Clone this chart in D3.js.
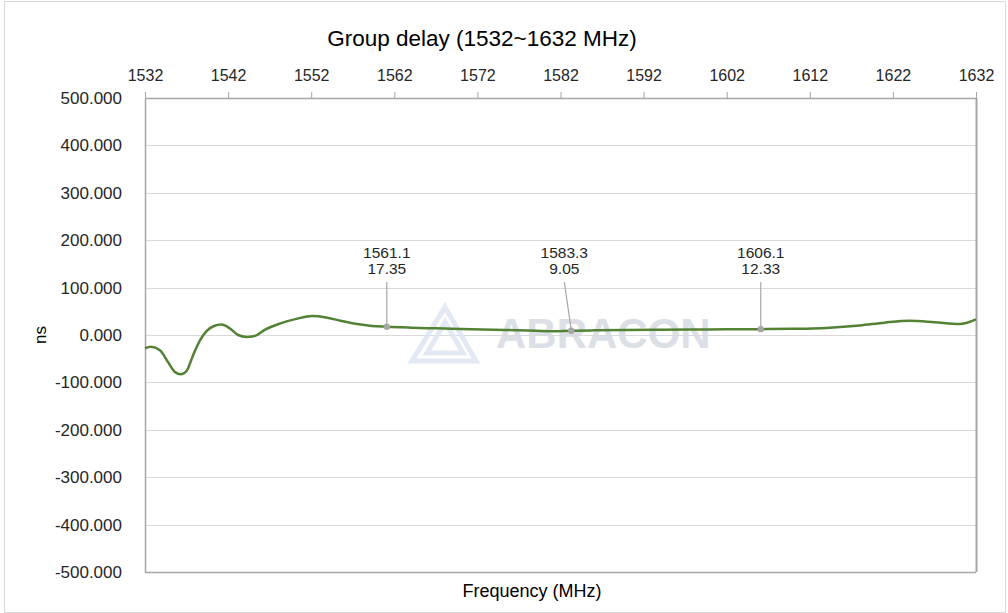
<!DOCTYPE html>
<html>
<head>
<meta charset="utf-8">
<script src="https://cdn.jsdelivr.net/npm/d3@7"></script>
<style>
  body { margin: 0; background: #fff; }
  svg { font-family: "Liberation Sans", Arial, sans-serif; }
  .axis text { fill: #262626; font-size: 16px; }
  .axis.yax text { font-size: 17px; }
  .axis path, .axis line { stroke: #a6a6a6; }
  .grid line { stroke: #d9d9d9; stroke-width: 1px; }
  .line { fill: none; stroke: #548235; stroke-width: 2.5px; }
  .note text { fill: #262626; font-size: 15.5px; text-anchor: middle; }
</style>
</head>
<body>
<div id="chart"></div>
<script>
// frequency (MHz) and group delay (ns)
const freq = [1532, 1532.7, 1533.8, 1534.8, 1535.6, 1536.3, 1537.0, 1537.8, 1538.6, 1539.4, 1540.3, 1541.2,
  1542.2, 1543.2, 1544.2, 1545.2, 1546.4, 1548.2, 1550.2, 1552.1, 1553.8, 1555.5, 1557.5, 1559.3, 1561.1,
  1564, 1567, 1570, 1574, 1578, 1581, 1583.3, 1586, 1590, 1594, 1598, 1602, 1606.1, 1610, 1614, 1618,
  1621, 1624, 1627, 1630, 1632];
const delay = [-28, -25, -32, -58, -78, -83, -76, -42, -12, 8, 19, 22,
  14, 0, -4, -2, 11, 24, 34, 40, 37, 30, 23, 19, 17.35,
  15.5, 14, 12.5, 11, 9.5, 8, 9.05, 9.8, 10.5, 11, 11.5, 12, 12.33, 13, 15, 20,
  26, 30, 27, 23, 33];

// marked points
const markFreq = [1561.1, 1583.3, 1606.1];
const markDelay = [17.35, 9.05, 12.33];

const xTicks = [1532, 1542, 1552, 1562, 1572, 1582, 1592, 1602, 1612, 1622, 1632];
const yTicks = [500, 400, 300, 200, 100, 0, -100, -200, -300, -400, -500];

const W = 1008, H = 613;
const plotL = 145, plotR = 976, plotT = 98, plotB = 572;

const svg = d3.select("#chart").append("svg")
  .attr("width", W).attr("height", H);

// outer frame
svg.append("rect")
  .attr("x", 4.5).attr("y", 1.5).attr("width", 1001).attr("height", 611)
  .attr("fill", "#fff").attr("stroke", "#d9d9d9");

const x = d3.scaleLinear().domain([1532, 1632]).range([plotL, plotR]);
const y = d3.scaleLinear().domain([-500, 500]).range([plotB, plotT]);

// gridlines
svg.append("g").attr("class", "grid")
  .selectAll("line").data(yTicks).join("line")
  .attr("x1", plotL).attr("x2", plotR)
  .attr("y1", d => Math.round(y(d)) + 0.5).attr("y2", d => Math.round(y(d)) + 0.5);

// watermark
const wm = svg.append("g").attr("opacity", 0.9);
wm.append("path")
  .attr("d", "M445,307 L476,361 L412,361 Z M445,322 L463,353 L427,353 Z")
  .attr("fill", "none").attr("stroke", "#dfe7f4").attr("stroke-width", 5)
  .attr("stroke-linejoin", "miter");
wm.append("text")
  .attr("x", 496).attr("y", 348)
  .attr("font-size", 42).attr("font-weight", "bold")
  .attr("fill", "#d8dce4")
  .text("ABRACON");

// plot borders
svg.append("line").attr("x1", plotL).attr("x2", plotR).attr("y1", plotB + 0.5).attr("y2", plotB + 0.5)
  .attr("stroke", "#a6a6a6").attr("stroke-width", 1.5);
svg.append("line").attr("x1", plotR + 0.5).attr("x2", plotR + 0.5).attr("y1", plotT).attr("y2", plotB)
  .attr("stroke", "#a6a6a6").attr("stroke-width", 2);

// top axis
svg.append("g").attr("class", "axis")
  .attr("transform", `translate(0,${plotT})`)
  .call(d3.axisTop(x).tickValues(xTicks).tickSize(6).tickPadding(11).tickSizeOuter(0).tickFormat(d3.format("d")))
  .call(g => g.select(".domain").attr("stroke-width", 1.5));

// left axis (plain hyphen for negatives, as in the source)
const fmtY = d => d3.format(".3f")(d).replace("\u2212", "-");
svg.append("g").attr("class", "axis yax")
  .attr("transform", `translate(${plotL},0)`)
  .call(d3.axisLeft(y).tickValues(yTicks).tickSize(0).tickPadding(23).tickFormat(fmtY))
  .call(g => g.select(".domain").attr("stroke-width", 1.5));

// trace
const pts = freq.map((f, i) => [f, delay[i]]);
svg.append("path")
  .datum(pts)
  .attr("class", "line")
  .attr("d", d3.line().x(d => x(d[0])).y(d => y(d[1])).curve(d3.curveMonotoneX));

// markers with leader lines
const labelShift = [0, -7, 0];
const note = svg.append("g").attr("class", "note");
markFreq.forEach((f, i) => {
  const mx = x(f), my = y(markDelay[i]);
  const lx = mx + labelShift[i];
  note.append("line")
    .attr("x1", lx).attr("y1", 282).attr("x2", mx).attr("y2", my)
    .attr("stroke", "#a6a6a6").attr("stroke-width", 1.2);
  note.append("circle")
    .attr("cx", mx).attr("cy", my).attr("r", 3.2).attr("fill", "#a6a6a6");
  note.append("text").attr("x", lx).attr("y", 258).text(d3.format(".1f")(f));
  note.append("text").attr("x", lx).attr("y", 274).text(d3.format(".2f")(markDelay[i]));
});

// titles
svg.append("text")
  .attr("x", 482).attr("y", 46)
  .attr("text-anchor", "middle").attr("font-size", 22.5).attr("fill", "#000")
  .text("Group delay (1532~1632 MHz)");

svg.append("text")
  .attr("x", 532).attr("y", 597)
  .attr("text-anchor", "middle").attr("font-size", 18).attr("fill", "#000")
  .text("Frequency (MHz)");

svg.append("text")
  .attr("transform", "translate(46,335) rotate(-90)")
  .attr("text-anchor", "middle").attr("font-size", 17).attr("fill", "#000")
  .text("ns");
</script>
</body>
</html>
